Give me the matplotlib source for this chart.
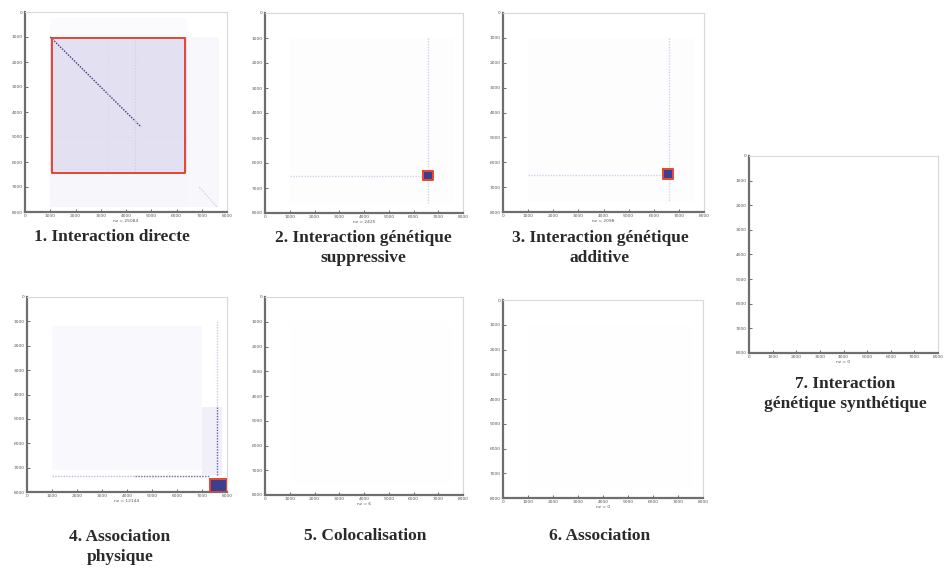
import matplotlib
matplotlib.use("Agg")
import matplotlib.pyplot as plt
from matplotlib.colors import LinearSegmentedColormap

# ---------------- data ----------------
captions = [
    "1. Interaction directe",
    "2. Interaction génétique\nsuppressive",
    "3. Interaction génétique\nadditive",
    "4. Association\nphysique",
    "5. Colocalisation",
    "6. Association",
    "7. Interaction\ngénétique synthétique",
]
nz_values = [25084, 2425, 2098, 12144, 6, 0, 0]
tick_values = [0, 1000, 2000, 3000, 4000, 5000, 6000, 7000, 8000]
matrix_size = 8000

# density regions per panel: (x0, x1, y0, y1, level)
density_1 = [(1000, 6400, 1000, 6400, 0.2), (6400, 7700, 1000, 7800, 0.05),
             (1000, 6400, 6400, 7800, 0.06), (1000, 6400, 250, 1000, 0.03)]
density_2 = [(1000, 7600, 1000, 7600, 0.012)]
density_3 = [(1000, 7600, 1000, 7600, 0.012)]
density_4 = [(1000, 7000, 1200, 7100, 0.045), (7000, 7800, 4500, 7300, 0.1)]
density_5 = [(1000, 7600, 1000, 7600, 0.006)]
density_6 = [(1000, 7600, 1000, 7600, 0.006)]
density_7 = []

# dotted streaks per panel: (x0, y0, x1, y1, level)
streaks_1 = [(1000, 1000, 4600, 4600, 0.95), (4350, 1000, 4350, 6400, 0.32),
             (3300, 1000, 3300, 6400, 0.25), (6900, 7000, 7600, 7800, 0.3),
             (1000, 5000, 6400, 5000, 0.22)]
streaks_2 = [(6600, 1000, 6600, 7600, 0.3), (1000, 6500, 6400, 6500, 0.3)]
streaks_3 = [(6600, 1000, 6600, 7600, 0.3), (1000, 6500, 6400, 6500, 0.3)]
streaks_4 = [(7600, 1000, 7600, 4500, 0.35), (7600, 4500, 7600, 7300, 0.8),
             (1000, 7350, 7300, 7350, 0.45), (4300, 7350, 7300, 7350, 0.7)]
streaks_5 = []
streaks_6 = []
streaks_7 = []

# dense blocks (dark): (x0, x1, y0, y1)
blocks_1 = []
blocks_2 = [(6420, 6760, 6350, 6650)]
blocks_3 = [(6400, 6740, 6310, 6650)]
blocks_4 = [(7330, 7950, 7500, 7980)]
blocks_5 = []
blocks_6 = []
blocks_7 = []

# highlighted sub-matrices (red frames): (x0, x1, y0, y1)
frames_1 = [(1050, 6350, 1050, 6420)]
frames_2 = [(6380, 6790, 6320, 6680)]
frames_3 = [(6370, 6770, 6280, 6680)]
frames_4 = [(7300, 7980, 7470, 8000)]
frames_5 = []
frames_6 = []
frames_7 = []

densities = [density_1, density_2, density_3, density_4, density_5, density_6, density_7]
streaks = [streaks_1, streaks_2, streaks_3, streaks_4, streaks_5, streaks_6, streaks_7]
blocks = [blocks_1, blocks_2, blocks_3, blocks_4, blocks_5, blocks_6, blocks_7]
frames = [frames_1, frames_2, frames_3, frames_4, frames_5, frames_6, frames_7]

# ---------------- layout ----------------
W, H = 946, 577
panel_px = [  # left, top, right, bottom in pixels
    (25, 12, 227, 212),
    (265, 13, 463, 213),
    (503, 13, 704, 212),
    (27, 297, 227, 492),
    (265, 297, 463, 495),
    (503, 300, 703, 498),
    (749, 156, 938, 353),
]
caption_px = [(112, 237), (363, 248), (600, 248), (120, 547),
              (365, 536), (600, 536), (845, 394)]

cmap = LinearSegmentedColormap.from_list("spy", ["#ffffff", "#b9b3dd", "#2c2a7a"])

fig = plt.figure(figsize=(W / 100, H / 100), dpi=100)
fig.patch.set_facecolor("white")

for i in range(7):
    l, t, r, b = panel_px[i]
    ax = fig.add_axes([l / W, 1 - b / H, (r - l) / W, (b - t) / H])
    ax.set_xlim(0, matrix_size)
    ax.set_ylim(matrix_size, 0)
    for (x0, x1, y0, y1, lev) in densities[i]:
        ax.fill_between([x0, x1], y0, y1, color=cmap(lev), lw=0, zorder=1)
    for (x0, y0, x1, y1, lev) in streaks[i]:
        ax.plot([x0, x1], [y0, y1], color=cmap(lev), lw=1.0,
                ls=(0, (1, 1)), zorder=2)
    for (x0, x1, y0, y1) in blocks[i]:
        ax.fill_between([x0, x1], y0, y1, color="#3a3f8f", lw=0, zorder=3)
    for (x0, x1, y0, y1) in frames[i]:
        ax.plot([x0, x1, x1, x0, x0], [y0, y0, y1, y1, y0],
                color="#e8442e", lw=1.4, zorder=4)
    ax.set_xticks(tick_values)
    ax.set_yticks(tick_values)
    ax.set_xticklabels([str(v) for v in tick_values])
    ax.set_yticklabels([str(v) for v in tick_values])
    ax.tick_params(direction="in", length=2, width=0.6, labelsize=3.2,
                   colors="#555555", pad=1.5)
    ax.set_xlabel(f"nz = {nz_values[i]}", fontsize=3.2, color="#555555", labelpad=1)
    for side in ["top", "right"]:
        ax.spines[side].set_color("#d8d8d8")
        ax.spines[side].set_linewidth(0.8)
    for side in ["left", "bottom"]:
        ax.spines[side].set_color("#6e6e6e")
        ax.spines[side].set_linewidth(1.6)

    cx, cy = caption_px[i]
    fig.text(cx / W, 1 - cy / H, captions[i], ha="center", va="center",
             fontsize=12.5, family="Liberation Serif", weight="bold",
             color="#2a2a2a", linespacing=1.3)

fig.savefig("out.png", dpi=100)
